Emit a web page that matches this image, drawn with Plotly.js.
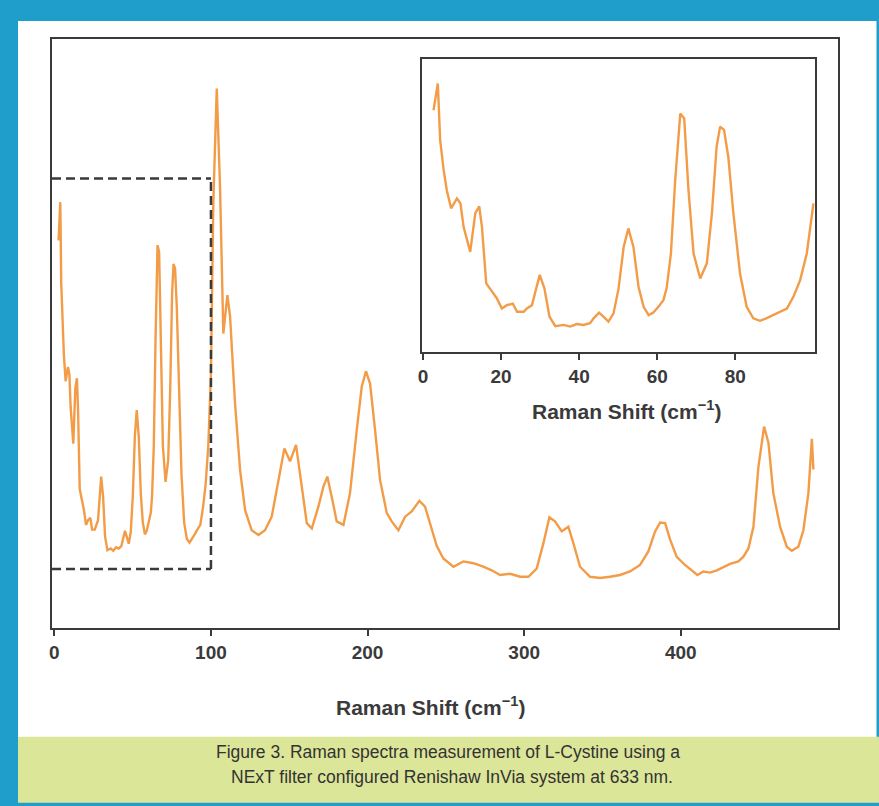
<!DOCTYPE html>
<html>
<head>
<meta charset="utf-8">
<script src="https://cdn.plot.ly/plotly-3.0.1.min.js"></script>
<style>html,body{margin:0;padding:0;background:#fff;}#chart{width:879px;height:806px;}</style>
</head>
<body>
<div id="chart"></div>
<script>
// Raman shift (cm-1) and intensity (a.u.)
const shiftLow = [2.7,3.8,4.4,5.3,6.1,7.2,8.7,9.6,10.4,12.1,13.4,14.4,15.1,16.2,17.7,18.9,20.2,21.5,23.0,24.1,25.8,26.6,27.9,29.9,31.1,32.4,33.9,36.0,37.7,39.4,41.1,42.8,43.7,45.1,46.2,47.5,48.8,50.1,51.4,52.6,53.9,55.2,56.5,57.8,59.0,60.3,61.6,62.4,63.5,64.6,65.9,66.9,68.0,69.3,71.0,72.7,74.0,75.2,76.1,77.1,78.2,79.5,81.2,82.9,84.6,86.3,87.9,89.6,91.3,93.2,94.9,96.6,98.3,100.0];
const intensityLow = [65.8,72.3,58.5,51.2,46.3,41.9,44.3,43.1,37.4,31.3,40.7,42.4,37.4,23.6,21.6,20.0,17.5,18.3,18.7,16.7,16.7,17.5,18.3,25.7,22.4,15.5,13.2,13.5,13.1,13.7,13.5,13.9,15.1,16.5,15.5,14.3,16.3,22.4,32.5,37.0,32.5,22.8,17.9,15.9,16.5,17.9,19.6,22.4,30.9,48.8,65.0,63.8,46.3,30.9,24.8,28.5,40.7,56.9,61.8,61.0,54.4,40.7,26.0,17.9,15.1,14.5,15.1,15.9,16.7,17.5,20.4,24.4,30.9,43.1];
const shiftHigh = [101.5,103.7,105.8,107.9,110.5,112.2,115.4,118.6,121.8,126.0,130.3,134.5,138.8,143.0,146.9,150.5,154.3,158.0,161.2,164.4,168.6,171.8,174.3,177.1,180.3,184.6,188.8,193.1,196.3,199.0,201.6,204.8,208.0,212.3,215.4,219.7,224.0,228.2,233.1,236.7,239.9,244.2,248.4,254.8,261.2,267.6,273.9,279.3,284.6,291.0,297.4,302.7,308.0,312.3,316.1,319.7,324.0,328.2,331.4,335.7,342.1,348.5,354.8,361.2,367.6,374.0,379.3,383.6,386.8,390.0,393.2,397.4,402.7,407.0,410.6,414.4,418.7,423.0,427.2,431.5,436.8,440.0,443.2,446.4,449.6,453.2,456.0,459.1,463.4,467.7,470.9,475.1,478.3,481.5,483.7,484.7];
const intensityHigh = [72.1,91.6,74.9,50.0,56.5,52.9,38.1,26.8,20.0,16.6,15.8,16.6,18.9,24.6,30.5,28.3,31.1,24.0,17.8,16.9,20.6,24.0,25.7,22.3,18.1,17.5,22.9,33.6,41.0,43.6,41.5,33.6,25.1,19.5,18.1,16.6,18.9,19.8,21.6,20.6,17.8,13.9,11.8,10.4,11.3,11.0,10.4,9.8,9.0,9.2,8.7,8.7,10.1,14.4,18.8,18.1,16.4,17.2,14.4,10.4,8.7,8.5,8.7,9.0,9.6,10.7,13.0,16.4,17.9,17.8,15.0,12.1,10.7,9.8,9.0,9.6,9.4,9.8,10.4,10.9,11.3,12.1,13.5,17.2,27.4,34.2,31.4,22.9,17.2,13.8,13.1,13.8,16.6,22.9,32.1,26.9];

const mainTicks = [0,100,200,300,400];
const insetTicks = [0,20,40,60,80];
const zoomShift = [0,100];
const zoomIntensity = [10,76.3];

const axisTitle = 'Raman Shift (cm<sup>\u22121</sup>)';
const captionLines = ['Figure 3. Raman spectra measurement of L-Cystine using a',
                      'NExT filter configured Renishaw InVia system at 633 nm.'];

const W = 879, H = 806;
const px = v => v / W;
const py = v => (H - v) / H;

const lineColor = '#f39c48';
const ink = '#3a3a3a';
const sans = 'Liberation Sans, Arial, Helvetica, sans-serif';
const boldFont = {family: sans, size: 19, color: ink, weight: 'bold'};
const titleFont = {family: sans, size: 21, color: ink, weight: 'bold'};
const captionFont = {family: sans, size: 17.5, color: '#333333'};

const mainX = shiftLow.concat(shiftHigh);
const mainY = intensityLow.concat(intensityHigh);
const mainRange = [-1.5, 500.4];

const traces = [
  {x: mainX, y: mainY, xaxis: 'x', yaxis: 'y', type: 'scatter', mode: 'lines',
   line: {color: lineColor, width: 2.4}, hoverinfo: 'skip', showlegend: false},
  {x: shiftLow, y: intensityLow, xaxis: 'x2', yaxis: 'y2', type: 'scatter', mode: 'lines',
   line: {color: lineColor, width: 2.4}, hoverinfo: 'skip', showlegend: false}
];

const commonX = {showline: true, mirror: true, linecolor: ink, linewidth: 2, showgrid: false, zeroline: false,
  ticks: 'outside', ticklen: 6, tickwidth: 2, tickcolor: ink, tickfont: boldFont, tickmode: 'array', fixedrange: true};
const commonY = {showline: true, mirror: true, linecolor: ink, linewidth: 2, showgrid: false, zeroline: false,
  ticks: '', showticklabels: false, fixedrange: true};

const layout = {
  width: W, height: H,
  margin: {l: 0, r: 0, t: 0, b: 0},
  paper_bgcolor: '#1f9dcb',
  plot_bgcolor: '#ffffff',
  showlegend: false,
  xaxis: Object.assign({}, commonX, {domain: [px(52), px(838)], range: mainRange, tickvals: mainTicks, anchor: 'y'}),
  yaxis: Object.assign({}, commonY, {domain: [py(628), py(39)], range: [0, 100], anchor: 'x'}),
  xaxis2: Object.assign({}, commonX, {domain: [px(422), px(815)], range: [-0.25, 100.4], tickvals: insetTicks, anchor: 'y2'}),
  yaxis2: Object.assign({}, commonY, {domain: [py(352), py(58.5)], range: [6.9, 78.4], anchor: 'x2'}),
  shapes: [
    {type: 'rect', xref: 'paper', yref: 'paper', x0: px(18), x1: px(876.5), y0: py(737), y1: py(21),
     fillcolor: '#ffffff', line: {width: 0}, layer: 'below'},
    {type: 'rect', xref: 'paper', yref: 'paper', x0: px(18), x1: 1, y0: py(802.7), y1: py(736.7),
     fillcolor: '#dce698', line: {width: 0}, layer: 'below'},
    {type: 'line', xref: 'x', yref: 'y', x0: mainRange[0], x1: zoomShift[1], y0: zoomIntensity[1], y1: zoomIntensity[1],
     line: {color: ink, width: 2.5, dash: '9px,5px'}},
    {type: 'line', xref: 'x', yref: 'y', x0: mainRange[0], x1: zoomShift[1], y0: zoomIntensity[0], y1: zoomIntensity[0],
     line: {color: ink, width: 2.5, dash: '9px,5px'}},
    {type: 'line', xref: 'x', yref: 'y', x0: zoomShift[1], x1: zoomShift[1], y0: zoomIntensity[0], y1: zoomIntensity[1],
     line: {color: ink, width: 2.5, dash: '9px,5px'}}
  ],
  annotations: [
    {xref: 'paper', yref: 'paper', x: px(430), y: py(706), xanchor: 'center', yanchor: 'middle',
     text: axisTitle, showarrow: false, font: titleFont},
    {xref: 'paper', yref: 'paper', x: px(626), y: py(410), xanchor: 'center', yanchor: 'middle',
     text: axisTitle, showarrow: false, font: titleFont},
    {xref: 'paper', yref: 'paper', x: px(448), y: py(752), xanchor: 'center', yanchor: 'middle',
     text: captionLines[0], showarrow: false, font: captionFont},
    {xref: 'paper', yref: 'paper', x: px(452), y: py(777), xanchor: 'center', yanchor: 'middle',
     text: captionLines[1], showarrow: false, font: captionFont}
  ]
};

Plotly.newPlot('chart', traces, layout, {staticPlot: true, displayModeBar: false});
</script>
</body>
</html>
